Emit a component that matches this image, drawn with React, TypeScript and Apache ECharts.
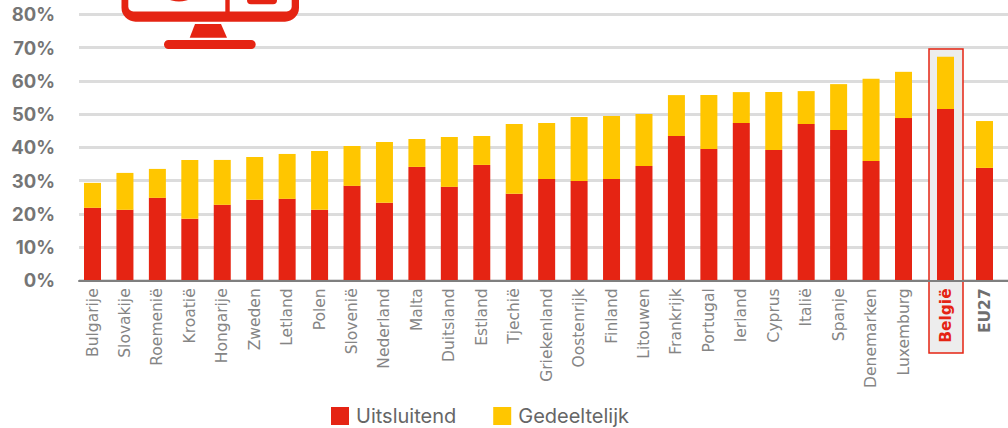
import React, { useEffect, useRef } from "react";
import * as echarts from "echarts";

const countries = ["Bulgarije","Slovakije","Roemenië","Kroatië","Hongarije","Zweden","Letland","Polen","Slovenië","Nederland","Malta","Duitsland","Estland","Tjechië","Griekenland","Oostenrijk","Finland","Litouwen","Frankrijk","Portugal","Ierland","Cyprus","Italië","Spanje","Denemarken","Luxemburg"];
const exclusive = [21.8,21.2,24.8,18.5,22.7,24.2,24.5,21.2,28.4,23.3,34.1,28.1,34.7,26.0,30.5,29.9,30.5,34.4,43.4,39.5,47.3,39.2,47.0,45.2,35.9,48.8];
const partial = [7.5,11.1,8.7,17.7,13.5,12.9,13.5,17.7,12.0,18.3,8.4,15.0,8.7,21.0,16.8,19.2,18.9,15.6,12.3,16.2,9.3,17.4,9.9,13.8,24.7,13.9];
const belgium = { name: "België", exclusive: 51.5, partial: 15.7 };
const eu = { name: "EU27", exclusive: 33.8, partial: 14.1 };

const RED = "#e52413";
const YELLOW = "#ffc600";
const GREY = "#7f7f7f";
const FONT = "Inter";
const LABEL_FONT = "DejaVu Sans";
const SLOT = 32.44;
const TOP = 14.3;
const H = 266;

export default function App() {
  const ref = useRef<HTMLDivElement>(null);
  useEffect(() => {
    document.body.style.margin = "0";
    document.body.style.overflow = "hidden";
    const chart = echarts.init(ref.current!, undefined, { renderer: "svg" });
    const groups = [
      { left: 76.28, width: SLOT * countries.length, cats: countries, a: exclusive, b: partial, color: "#858585", weight: 400, size: 15.5 },
      { left: 929.28, width: SLOT, cats: [belgium.name], a: [belgium.exclusive], b: [belgium.partial], color: RED, weight: 700, size: 15.5 },
      { left: 968.28, width: SLOT, cats: [eu.name], a: [eu.exclusive], b: [eu.partial], color: "#6f6f6f", weight: 700, size: 15.5 },
    ];
    const grids: any[] = [{ left: 79, width: 929, top: TOP, height: H }];
    const xAxes: any[] = [{
      gridIndex: 0, type: "value", min: 0, max: 1, z: 3,
      axisLine: { show: true, lineStyle: { color: GREY, width: 2 } },
      axisTick: { show: false }, axisLabel: { show: false }, splitLine: { show: false },
    }];
    const yAxes: any[] = [{
      gridIndex: 0, type: "value", min: 0, max: 80, interval: 10,
      axisLine: { show: false }, axisTick: { show: false },
      axisLabel: { formatter: "{value}%", color: "#757575", fontFamily: FONT, fontWeight: 700, fontSize: 18.5, margin: 24, padding: [0, 0, 2, 0] },
      splitLine: { show: true, lineStyle: { color: "#dcdcdc", width: 3 } },
    }];
    const series: any[] = [];
    groups.forEach((g, i) => {
      const idx = i + 1;
      grids.push({ left: g.left, width: g.width, top: TOP, height: H });
      xAxes.push({
        gridIndex: idx, type: "category", data: g.cats, z: 4,
        axisLine: { show: false }, axisTick: { show: false },
        axisLabel: { rotate: 90, interval: 0, margin: 8, color: g.color, fontFamily: LABEL_FONT, fontWeight: g.weight, fontSize: g.size, padding: [0, 0, 3, 0] },
      });
      yAxes.push({
        gridIndex: idx, type: "value", min: 0, max: 80, interval: 10, show: false,
        splitLine: { show: false },
      });
      series.push({ type: "bar", name: "Uitsluitend", stack: "s" + idx, xAxisIndex: idx, yAxisIndex: idx, data: g.a, barWidth: 17, itemStyle: { color: RED } });
      series.push({ type: "bar", name: "Gedeeltelijk", stack: "s" + idx, xAxisIndex: idx, yAxisIndex: idx, data: g.b, barWidth: 17, itemStyle: { color: YELLOW } });
    });
    chart.setOption({
      animation: false,
      backgroundColor: "#fff",
      grid: grids,
      xAxis: xAxes,
      yAxis: yAxes,
      series,
      legend: {
        left: 331, top: 406, itemWidth: 18, itemHeight: 18, itemGap: 37, icon: "rect", selectedMode: false,
        data: ["Uitsluitend", "Gedeeltelijk"],
        textStyle: { color: "#666", fontFamily: FONT, fontSize: 20, padding: [2, 0, 0, 2] },
        padding: 0,
      },
      graphic: { elements: [
        { type: "rect", z: 1, shape: { x: 929, y: 49, width: 34, height: 304 }, style: { fill: "#ededed", stroke: RED, lineWidth: 1.5 } },
        { type: "rect", z: 10, shape: { x: 121.5, y: -40, width: 177.5, height: 61.7, r: 14 }, style: { fill: RED } },
        { type: "rect", z: 11, shape: { x: 128.3, y: -30, width: 163.4, height: 41.5, r: 5 }, style: { fill: "#fff" } },
        { type: "rect", z: 12, shape: { x: 225.3, y: -30, width: 4.4, height: 42 }, style: { fill: RED } },
        { type: "rect", z: 12, shape: { x: 247, y: -10, width: 30, height: 14.3, r: 4 }, style: { fill: RED } },
        { type: "circle", z: 12, shape: { cx: 179, cy: -26.25, r: 27.75 }, style: { fill: RED } },
        { type: "polygon", z: 10, shape: { points: [[195, 24], [221, 24], [227, 37.7], [189.7, 37.7]] }, style: { fill: RED } },
        { type: "rect", z: 10, shape: { x: 164, y: 40, width: 91.7, height: 9, r: 4.5 }, style: { fill: RED } },
      ] },
    });
    return () => chart.dispose();
  }, []);
  return <div ref={ref} style={{ width: 1008, height: 428 }} />;
}
